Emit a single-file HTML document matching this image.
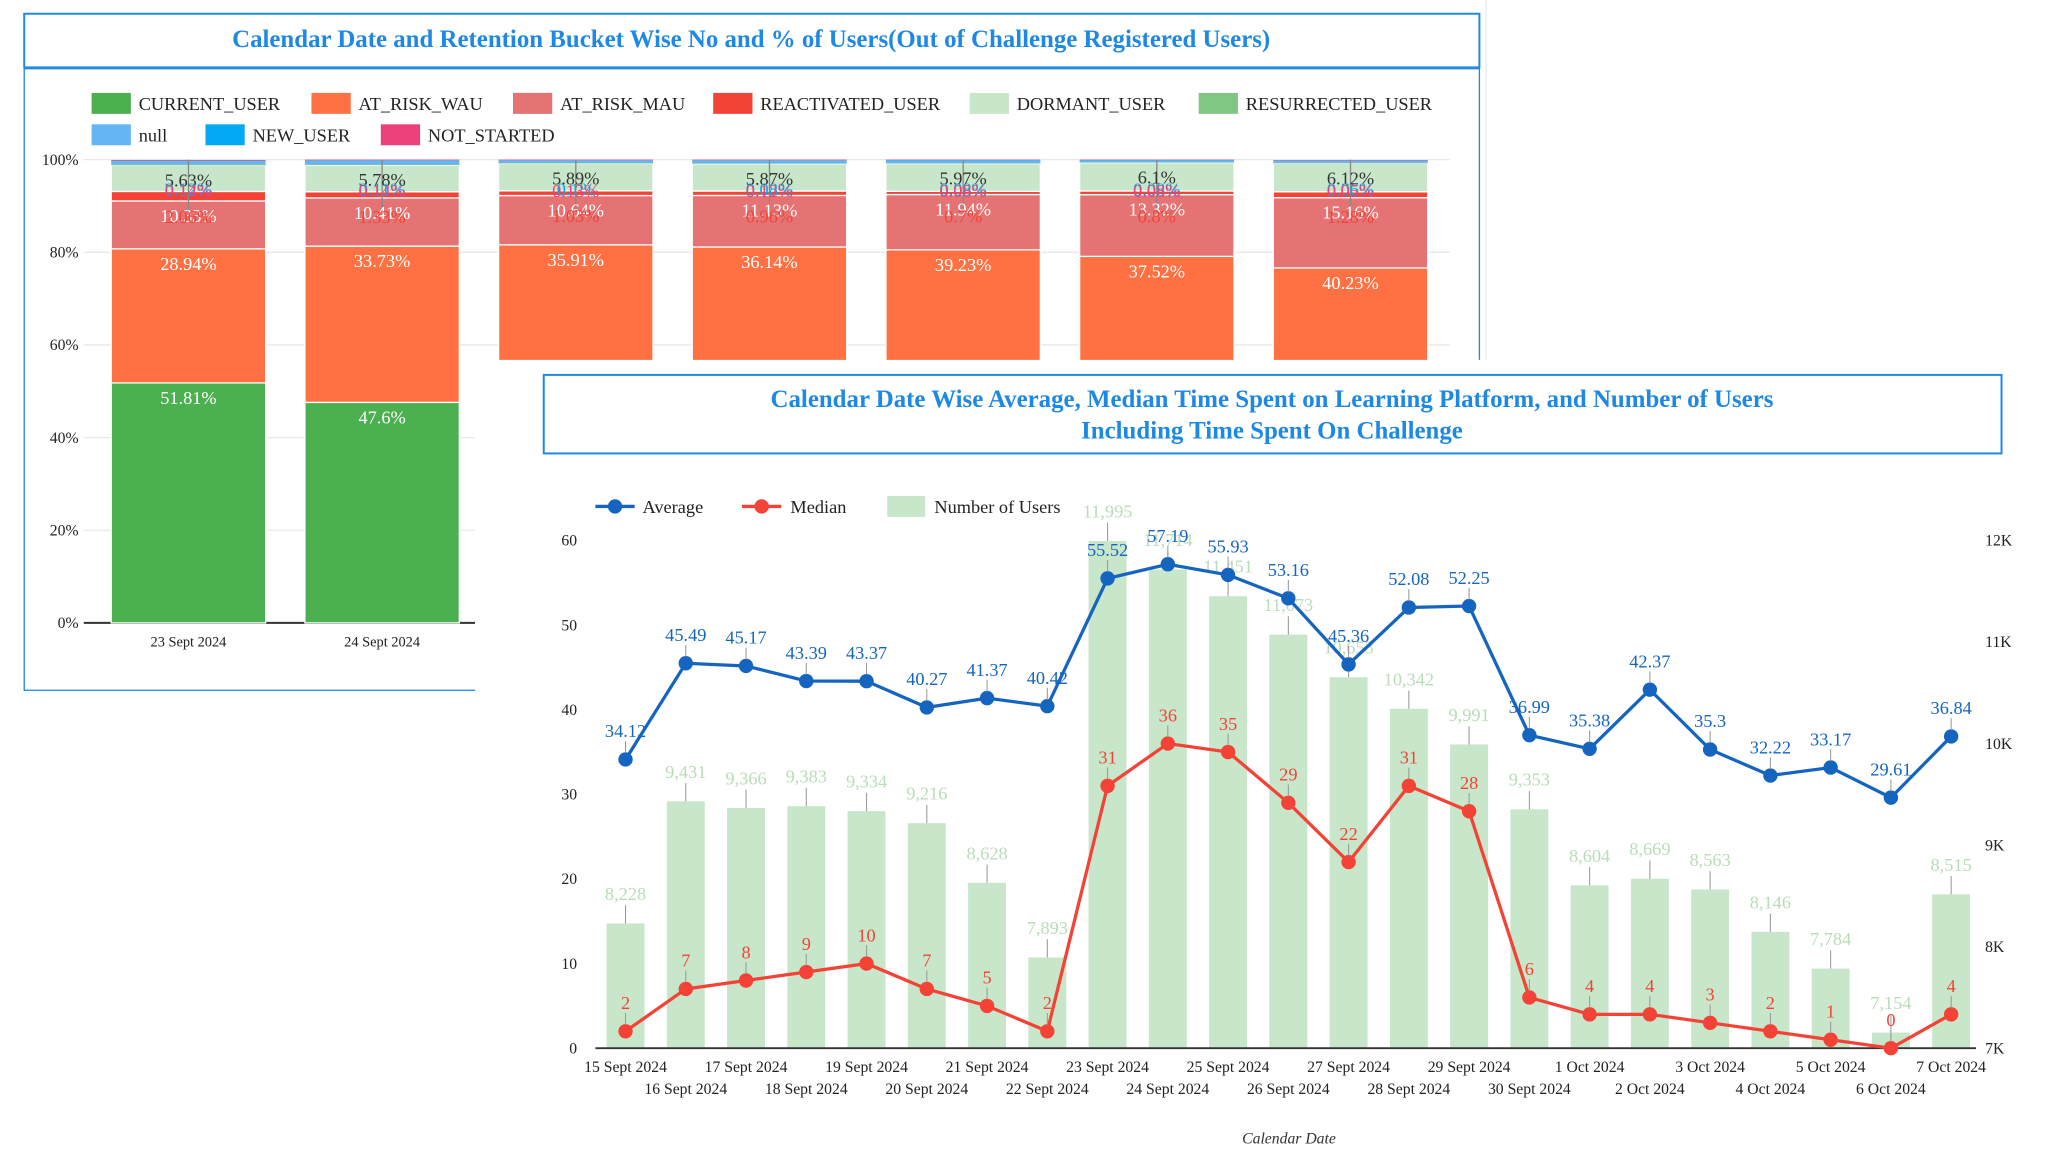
<!DOCTYPE html>
<html><head><meta charset="utf-8"><style>
html,body{margin:0;padding:0;background:#fff;}
svg{display:block;font-family:"Liberation Serif",serif;}
</style></head><body>
<svg id="s" width="2048" height="1172" viewBox="0 0 1565 895.6" xmlns="http://www.w3.org/2000/svg"></svg>
<script>
// ---------- Chart 1 data ----------
const c1Dates = ["23 Sept 2024","24 Sept 2024","25 Sept 2024","26 Sept 2024","27 Sept 2024","28 Sept 2024","29 Sept 2024"];
const c1Series = ["CURRENT_USER","AT_RISK_WAU","AT_RISK_MAU","REACTIVATED_USER","DORMANT_USER","RESURRECTED_USER","null","NEW_USER","NOT_STARTED"];
const currentUser = [51.81,47.6,45.7,45.0,41.3,41.6,36.4];
const atRiskWau = [28.94,33.73,35.91,36.14,39.23,37.52,40.23];
const atRiskMau = [10.33,10.41,10.64,11.13,11.94,13.32,15.16];
const reactivated = [2.06,1.33,1.03,0.96,0.7,0.8,1.28];
const dormant = [5.63,5.78,5.89,5.87,5.97,6.1,6.12];
const resurrected = [0.2,0.1,0.1,0.1,0.1,0.1,0.1];
const nullUser = [0.7,0.8,0.5,0.6,0.6,0.4,0.5];
const newUser = [0.12,0.11,0.1,0.08,0.08,0.08,0.06];
const notStarted = [0.14,0.14,0.13,0.12,0.08,0.08,0.05];
const c1Ticks = ["0%","20%","40%","60%","80%","100%"];
// ---------- Chart 2 data ----------
const dates = ["15 Sept 2024","16 Sept 2024","17 Sept 2024","18 Sept 2024","19 Sept 2024","20 Sept 2024","21 Sept 2024","22 Sept 2024","23 Sept 2024","24 Sept 2024","25 Sept 2024","26 Sept 2024","27 Sept 2024","28 Sept 2024","29 Sept 2024","30 Sept 2024","1 Oct 2024","2 Oct 2024","3 Oct 2024","4 Oct 2024","5 Oct 2024","6 Oct 2024","7 Oct 2024"];
const average = [34.12,45.49,45.17,43.39,43.37,40.27,41.37,40.42,55.52,57.19,55.93,53.16,45.36,52.08,52.25,36.99,35.38,42.37,35.3,32.22,33.17,29.61,36.84];
const median = [2,7,8,9,10,7,5,2,31,36,35,29,22,31,28,6,4,4,3,2,1,0,4];
const users = [8228,9431,9366,9383,9334,9216,8628,7893,11995,11714,11451,11073,10653,10342,9991,9353,8604,8669,8563,8146,7784,7154,8515];
const leftTicks = [0,10,20,30,40,50,60];
const rightTicks = ["7K","8K","9K","10K","11K","12K"];

const S = document.getElementById('s');
const NS = "http://www.w3.org/2000/svg";
function el(tag, attrs, parent, text){
  const e = document.createElementNS(NS, tag);
  for (const k in attrs) e.setAttribute(k, attrs[k]);
  if (text !== undefined) e.textContent = text;
  (parent||S).appendChild(e); return e;
}
const colors = ["#4caf50","#ff7043","#e57373","#f44336","#c8e6c9","#81c784","#64b5f6","#03a9f4","#ec407a"];
const allSeries = [currentUser,atRiskWau,atRiskMau,reactivated,dormant,resurrected,nullUser,newUser,notStarted];

let sep = el('line',{x1:1135.6,x2:1135.6,y1:0,y2:285,stroke:'#e3edf7','stroke-width':1});
 

// ----- Chart 1 frame -----
const g1 = el('g',{});
 
let r = el('rect',{x:18.5,y:52.5,width:1112,height:475,fill:'#fff',stroke:'#1e88e5','stroke-width':1},g1);
 
r = el('rect',{x:18.5,y:10.5,width:1112,height:41,fill:'#fff',stroke:'#1e88e5','stroke-width':1.5},g1);
 
let t = el('text',{x:574,y:36,'text-anchor':'middle','font-size':19,'font-weight':'bold',fill:'#1e88e5'},g1,"Calendar Date and Retention Bucket Wise No and % of Users(Out of Challenge Registered Users)");
 

// legend 1
const leg1 = [[70,79],[238,79],[392,79],[545,79],[741,79],[916,79],[70,103],[157,103],[291,103]];
c1Series.forEach((n,i)=>{
  const g = el('g',{},g1);
  
  
  el('rect',{x:leg1[i][0],y:leg1[i][1]-8,width:30,height:16,fill:colors[i]},g);
  el('text',{x:leg1[i][0]+36,y:leg1[i][1]+5,'font-size':14,fill:'#222'},g,n);
});
// axes
const y1 = v => 476 - v*3.54;
c1Ticks.forEach((tk,i)=>{
  const yy = y1(i*20);
  el('line',{x1:64,x2:1108,y1:yy,y2:yy,stroke:'#e8e8e8','stroke-width':1},g1);
  const tt = el('text',{x:60,y:yy+4,'text-anchor':'end','font-size':12,fill:'#222'},g1,tk);
   
});
el('line',{x1:64,x2:363,y1:476,y2:476,stroke:'#333','stroke-width':1.5},g1);
const x1 = i => 144 + i*148;
const labelColors = ["#fff","#fff","#fff","#f44336","#333","#81c784","#64b5f6","#03a9f4","#ec407a"];
c1Dates.forEach((d,i)=>{
  const bg = el('g',{},g1);
  
  
  let cum = 0;
  const labels=[];
  allSeries.forEach((s,k)=>{
    const v = s[i];
    const yt = y1(cum+v), yb = y1(cum);
    el('rect',{x:x1(i)-59,y:yt,width:118,height:Math.max(yb-yt,0.3),fill:colors[k],stroke:'#fff','stroke-width':k<5?1:0},bg);
    labels.push([k,yt,v]);
    cum += v;
  });
  el('line',{x1:x1(i),x2:x1(i),y1:y1(100),y2:y1(100)+40,stroke:'#888','stroke-width':1},bg);
  labels.forEach(([k,yt,v])=>{
    let ly;
    if (k<3) ly = yt+16;
    else if (k===3) ly = yt+24;
    else if (k===4) ly = yt+16;
    else ly = y1(100)+25 + (k-5)*1.2;
    if (k===5 || k===6) return;
    el('text',{x:x1(i),y:ly,'text-anchor':'middle','font-size':14,fill:labelColors[k]},bg,(Math.round(v*100)/100)+'%');
  });
  el('text',{x:x1(i),y:494,'text-anchor':'middle','font-size':11,fill:'#222'},bg,d);
});

// ----- Chart 2 -----
const g2 = el('g',{});
 
el('rect',{x:363,y:275,width:1210,height:625,fill:'#fff'},g2);
r = el('rect',{x:415.5,y:286.5,width:1114,height:60,fill:'#fff',stroke:'#1e88e5','stroke-width':1.5},g2);
 
t = el('text',{x:972,y:311,'text-anchor':'middle','font-size':19,'font-weight':'bold',fill:'#1e88e5'},g2,"Calendar Date Wise Average, Median Time Spent on Learning Platform, and Number of Users");
 
t = el('text',{x:972,y:335,'text-anchor':'middle','font-size':19,'font-weight':'bold',fill:'#1e88e5'},g2,"Including Time Spent On Challenge");
 
// legend
let lg = el('g',{},g2);  
el('line',{x1:455,x2:485,y1:387,y2:387,stroke:'#1565c0','stroke-width':2.5},lg);
el('circle',{cx:470,cy:387,r:5.5,fill:'#1565c0'},lg);
el('text',{x:491,y:392,'font-size':14,fill:'#222'},lg,'Average');
lg = el('g',{},g2);  
el('line',{x1:567,x2:597,y1:387,y2:387,stroke:'#f44336','stroke-width':2.5},lg);
el('circle',{cx:582,cy:387,r:5.5,fill:'#f44336'},lg);
el('text',{x:604,y:392,'font-size':14,fill:'#222'},lg,'Median');
lg = el('g',{},g2);  
el('rect',{x:678,y:379,width:29,height:16,fill:'#c8e6c9'},lg);
el('text',{x:714,y:392,'font-size':14,fill:'#222'},lg,'Number of Users');

const yL = v => 801 - v*(388/60);
const yR = v => 801 - (v-7000)*(388/5000);
const x2 = i => 478 + i*(1013/22);
leftTicks.forEach(v=>{
  const tt = el('text',{x:441,y:yL(v)+4,'text-anchor':'end','font-size':12,fill:'#222'},g2,String(v));
   
});
rightTicks.forEach((tk,i)=>{
  const tt = el('text',{x:1517,y:yR(7000+i*1000)+4,'font-size':12,fill:'#222'},g2,tk);
   
});
// bars
users.forEach((u,i)=>{
  const b = el('rect',{x:x2(i)-14.5,y:yR(u),width:29,height:801-yR(u),fill:'#c8e6c9'},g2);
   
  el('line',{x1:x2(i),x2:x2(i),y1:yR(u)-14,y2:yR(u),stroke:'#999','stroke-width':0.8},g2);
  el('text',{x:x2(i),y:yR(u)-18,'text-anchor':'middle','font-size':14,fill:'#b9dcb9'},g2,u.toLocaleString('en-US'));
});
el('line',{x1:455,x2:1510,y1:801,y2:801,stroke:'#333','stroke-width':1.5},g2);
// lines
function drawLine(arr, col, name, yf, off){
  const p = el('polyline',{points:arr.map((v,i)=>x2(i)+','+yf(v)).join(' '),fill:'none',stroke:col,'stroke-width':2.5},g2);
   
  arr.forEach((v,i)=>{
    const c = el('circle',{cx:x2(i),cy:yf(v),r:5.5,fill:col},g2);
     
    el('line',{x1:x2(i),x2:x2(i),y1:yf(v)-14,y2:yf(v)-5,stroke:'#999','stroke-width':0.8},g2);
    el('text',{x:x2(i),y:yf(v)-off,'text-anchor':'middle','font-size':14,fill:col},g2,String(v));
  });
}
drawLine(median,'#f44336','median',yL,17);
drawLine(average,'#1565c0','average',yL,17);
// x labels
dates.forEach((d,i)=>{
  const tt = el('text',{x:x2(i),y:i%2===0?819:836,'text-anchor':'middle','font-size':12,fill:'#222'},g2,d);
   
});
t = el('text',{x:985,y:874,'text-anchor':'middle','font-size':12,'font-style':'italic',fill:'#333'},g2,'Calendar Date');
 
</script>
</body></html>
